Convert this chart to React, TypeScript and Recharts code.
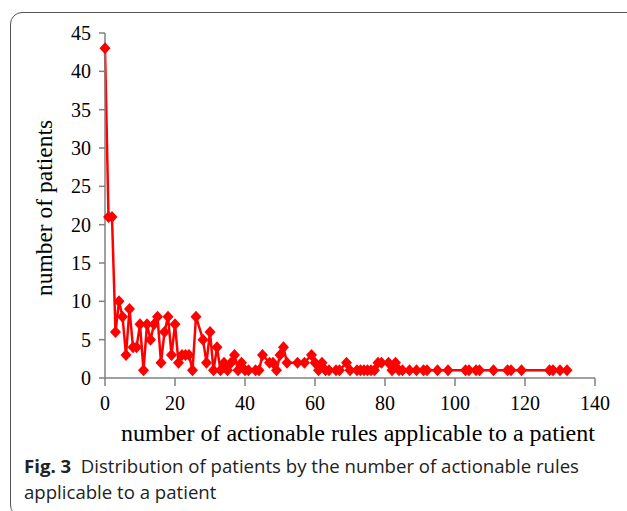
import React from 'react';
import { LineChart, Line, XAxis, YAxis, Label } from 'recharts';

const ruleCounts = [0, 1, 2, 3, 4, 5, 6, 7, 8, 9, 10, 11, 12, 13, 14, 15, 16, 17, 18, 19, 20, 21, 22, 23, 24, 25, 26, 28, 29, 30, 31, 32, 33, 34, 35, 36, 37, 38, 39, 40, 41, 43, 44, 45, 47, 48, 49, 50, 51, 52, 55, 57, 59, 60, 61, 62, 63, 64, 66, 67, 69, 70, 72, 73, 74, 75, 76, 77, 78, 79, 81, 82, 83, 84, 85, 87, 89, 91, 92, 95, 98, 103, 104, 106, 107, 111, 115, 116, 119, 127, 128, 130, 132];
const patientCounts = [43, 21, 21, 6, 10, 8, 3, 9, 4, 4, 7, 1, 7, 5, 7, 8, 2, 6, 8, 3, 7, 2, 3, 3, 3, 1, 8, 5, 2, 6, 1, 4, 1, 2, 1, 2, 3, 1, 2, 1, 1, 1, 1, 3, 2, 2, 1, 3, 4, 2, 2, 2, 3, 2, 1, 2, 1, 1, 1, 1, 2, 1, 1, 1, 1, 1, 1, 1, 2, 2, 2, 1, 2, 1, 1, 1, 1, 1, 1, 1, 1, 1, 1, 1, 1, 1, 1, 1, 1, 1, 1, 1, 1];
const xTicks = [0, 20, 40, 60, 80, 100, 120, 140];
const yTicks = [0, 5, 10, 15, 20, 25, 30, 35, 40, 45];

const data = ruleCounts.map((r, i) => ({ rules: r, patients: patientCounts[i] }));

const Diamond = (props: any) => {
  const { cx, cy, index } = props;
  if (cx == null || cy == null) return null;
  const w = 5.5;
  const h = 6;
  return (
    <path
      key={`d-${index}`}
      d={`M${cx},${cy - h} L${cx + w},${cy} L${cx},${cy + h} L${cx - w},${cy} Z`}
      fill="#ff0000"
      stroke="none"
    />
  );
};

const serif = '"Liberation Serif", "Times New Roman", serif';
const axisGray = '#808080';

export default function App() {
  return (
    <div style={{ position: 'absolute', left: 0, top: 0, width: 627, height: 511, overflow: 'hidden', background: '#fff' }}>
      <div
        style={{
          position: 'absolute',
          left: 10,
          top: 12,
          width: 660,
          height: 505,
          border: '1.5px solid #555',
          borderRadius: 12,
          boxSizing: 'border-box',
        }}
      />
      <div style={{ position: 'absolute', left: 0, top: 0 }}>
        <LineChart width={627} height={450} data={data} margin={{ top: 33, right: 32, left: 0, bottom: 0 }}>
          <XAxis
            dataKey="rules"
            type="number"
            domain={[0, 140]}
            ticks={xTicks}
            interval={0}
            height={72}
            tickSize={8}
            tickMargin={10}
            stroke={axisGray}
            strokeWidth={1.5}
            tick={{ fill: '#000', fontSize: 20, fontFamily: serif }}
          >
            <Label
              value="number of actionable rules applicable to a patient"
              position="insideBottom"
              offset={9}
              dx={8}
              style={{ fill: '#000', fontSize: 24, fontFamily: serif }}
            />
          </XAxis>
          <YAxis
            type="number"
            domain={[0, 45]}
            ticks={yTicks}
            interval={0}
            width={105}
            tickSize={6}
            tickMargin={8}
            stroke={axisGray}
            strokeWidth={1.5}
            tick={{ fill: '#000', fontSize: 20, fontFamily: serif }}
          />
          <Line
            type="linear"
            dataKey="patients"
            stroke="#ff0000"
            strokeWidth={2.5}
            dot={Diamond}
            activeDot={false}
            isAnimationActive={false}
          />
        </LineChart>
      </div>
      <div
        style={{
          position: 'absolute',
          left: 45,
          top: 208,
          transform: 'translate(-50%, -50%) rotate(-90deg)',
          fontFamily: serif,
          fontSize: 23.5,
          color: '#000',
          whiteSpace: 'nowrap',
          lineHeight: 1,
        }}
      >
        number of patients
      </div>
      <div
        style={{
          position: 'absolute',
          left: 24,
          top: 453,
          fontFamily: '"Open Sans", sans-serif',
          fontSize: 18.6,
          lineHeight: '26px',
          color: '#222',
          whiteSpace: 'nowrap',
        }}
      >
        <div>
          <span style={{ fontWeight: 700 }}>Fig. 3</span>
          <span>&nbsp;&nbsp;Distribution of patients by the number of actionable rules</span>
        </div>
        <div>applicable to a patient</div>
      </div>
    </div>
  );
}
